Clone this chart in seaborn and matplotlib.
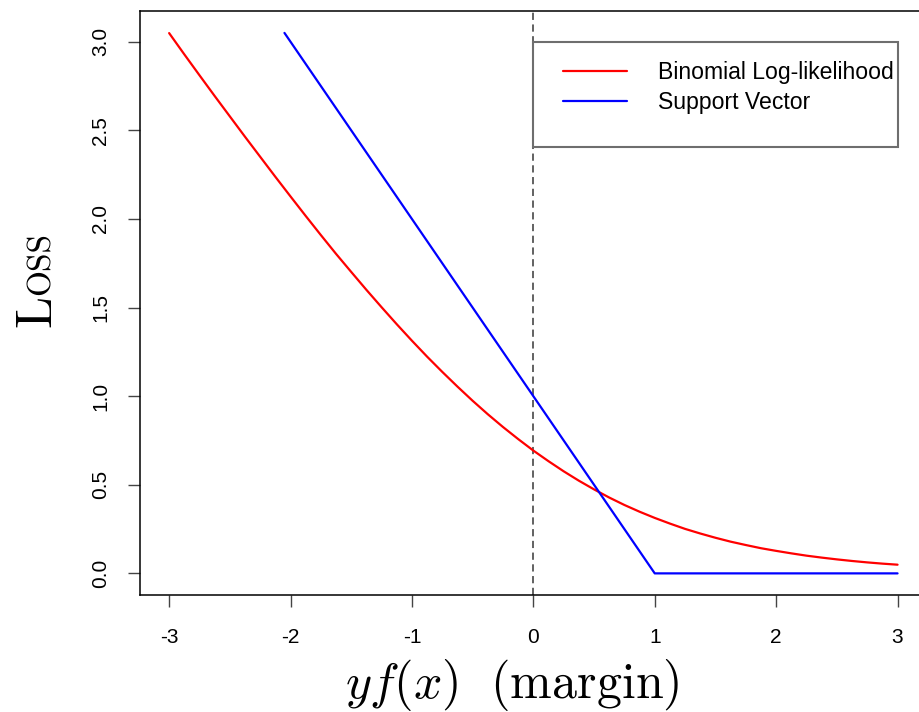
import numpy as np
import pandas as pd
import matplotlib
matplotlib.use('Agg')
import matplotlib.pyplot as plt
from matplotlib.patches import Rectangle
from matplotlib.transforms import offset_copy
import seaborn as sns

# binomial log-likelihood loss
margin_binom = [-3.0, -2.875, -2.75, -2.625, -2.5, -2.375, -2.25, -2.125, -2.0, -1.875,
                -1.75, -1.625, -1.5, -1.375, -1.25, -1.125, -1.0, -0.875, -0.75, -0.625,
                -0.5, -0.375, -0.25, -0.125, 0.0, 0.125, 0.25, 0.375, 0.5, 0.625,
                0.75, 0.875, 1.0, 1.125, 1.25, 1.375, 1.5, 1.625, 1.75, 1.875,
                2.0, 2.125, 2.25, 2.375, 2.5, 2.625, 2.75, 2.875, 3.0]
loss_binom = [3.049, 2.929, 2.811, 2.694, 2.579, 2.464, 2.351, 2.238, 2.127, 2.017,
              1.909, 1.803, 1.701, 1.600, 1.502, 1.406, 1.313, 1.223, 1.137, 1.054,
              0.974, 0.898, 0.826, 0.758, 0.693, 0.633, 0.576, 0.523, 0.474, 0.428,
              0.386, 0.348, 0.313, 0.281, 0.251, 0.225, 0.201, 0.179, 0.160, 0.142,
              0.127, 0.113, 0.100, 0.089, 0.079, 0.070, 0.062, 0.055, 0.049]

# support vector (hinge) loss
margin_svm = [-2.05, 1.0, 3.0]
loss_svm = [3.05, 0.0, 0.0]

series_names = ['Binomial Log-likelihood', 'Support Vector']
series_colors = ['#ff0000', '#0000ff']

x_ticks = [-3, -2, -1, 0, 1, 2, 3]
y_ticks = [0.0, 0.5, 1.0, 1.5, 2.0, 2.5, 3.0]

# legend box (data coords, like R's legend(x, y))
legend_x, legend_y = 0.0, 3.0

df = pd.concat([
    pd.DataFrame({'margin': margin_binom, 'loss': loss_binom, 'kind': series_names[0]}),
    pd.DataFrame({'margin': margin_svm, 'loss': loss_svm, 'kind': series_names[1]}),
])

sns.set_style('white')
plt.rcParams['font.family'] = ['Liberation Sans', 'DejaVu Sans']
plt.rcParams['mathtext.fontset'] = 'cm'
plt.rcParams['text.color'] = 'black'

fig = plt.figure(figsize=(9.2, 7.12), dpi=100)
ax = fig.add_axes([0.15217, 0.16433, 0.8551, 0.8198])

sns.lineplot(data=df, x='margin', y='loss', hue='kind', palette=series_colors,
             hue_order=series_names, sort=False, estimator=None, lw=1.6, ax=ax, legend=False)
ax.axvline(0, color='#555555', lw=1.3, ls=(0, (4, 2.5)), zorder=1)

ax.set_xlim(-3.24, 3.24)
ax.set_ylim(-0.122, 3.172)
ax.set_xticks(x_ticks)
ax.set_xticklabels([f'{t:d}' for t in x_ticks])
ax.set_yticks(y_ticks)
ax.set_yticklabels([f'{t:.1f}' for t in y_ticks], rotation=90, va='center')
ax.tick_params(axis='both', which='major', bottom=True, left=True, length=8.5, width=1.0,
               color='#444444', labelsize=15, labelcolor='black', direction='out', pad=13)
ax.tick_params(axis='x', pad=15)
for s in ax.spines.values():
    s.set_color('black')
    s.set_linewidth(1.1)
ax.set_xlabel('')
ax.set_ylabel('')

# legend: box + entries
ax.add_patch(Rectangle((legend_x, legend_y - 0.594), 3.0, 0.594, fill=False,
                       ec='#6e6e6e', lw=1.5, zorder=3))
handles = [plt.Line2D([], [], color=c, lw=1.6) for c in series_colors]
ax.legend(handles, series_names, loc='upper left', bbox_to_anchor=(legend_x, legend_y),
          bbox_transform=offset_copy(ax.transData, fig=fig, x=30, y=-19, units='dots'),
          frameon=False, fontsize=16.6, handlelength=2.74, handletextpad=1.35,
          labelspacing=0.3, borderaxespad=0, borderpad=0)

# axis titles
fig.text(512 / 920, 1 - 698 / 712, r'$yf(x)\ \ \mathrm{(margin)}$', fontsize=36,
         ha='center', va='baseline')
fig.text(50 / 920, 1 - 327 / 712, 'L', family='cmr10', fontsize=37, rotation=90,
         rotation_mode='anchor', ha='left', va='baseline')
fig.text(50 / 920, 1 - 232 / 712, 'OSS', family='cmr10', fontsize=24, rotation=90,
         rotation_mode='anchor', ha='right', va='baseline')

fig.savefig('out.png', dpi=100)
